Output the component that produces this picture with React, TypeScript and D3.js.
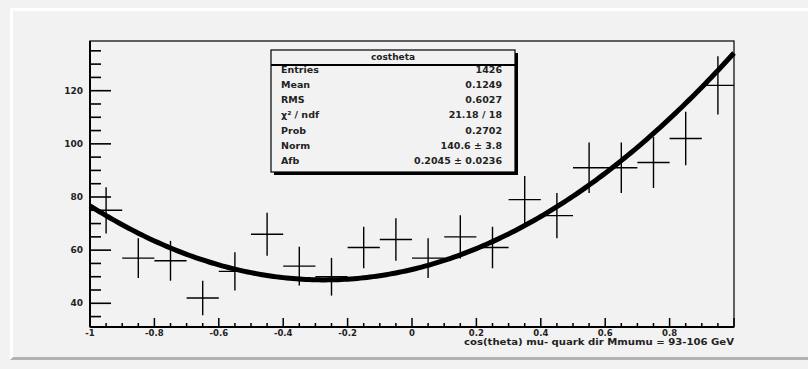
import React from "react";
import * as d3 from "d3";

// cos(theta) histogram, 20 bins on [-1, 1]
const binCenters = [
  -0.95, -0.85, -0.75, -0.65, -0.55, -0.45, -0.35, -0.25, -0.15, -0.05,
  0.05, 0.15, 0.25, 0.35, 0.45, 0.55, 0.65, 0.75, 0.85, 0.95,
];
const binHalfWidth = 0.05;
const counts = [75, 57, 56, 42, 52, 66, 54, 50, 61, 64, 57, 65, 61, 79, 73, 91, 91, 93, 102, 122];
const errors = [8.7, 7.5, 7.5, 6.5, 7.2, 8.1, 7.3, 7.1, 7.8, 8.0, 7.5, 8.1, 7.8, 8.9, 8.5, 9.5, 9.5, 9.6, 10.1, 11.0];

// fit parameters
const fitNorm = 140.6;
const fitAfb = 0.2045;

const xTickValues = [-1, -0.8, -0.6, -0.4, -0.2, 0, 0.2, 0.4, 0.6, 0.8];
const xTickLabels = ["-1", "-0.8", "-0.6", "-0.4", "-0.2", "0", "0.2", "0.4", "0.6", "0.8"];
const yTickValues = [40, 60, 80, 100, 120];
const yTickLabels = ["40", "60", "80", "100", "120"];

const statsTitle = "costheta";
const statsLabels = ["Entries", "Mean", "RMS", "χ² / ndf", "Prob", "Norm", "Afb"];
const statsValues = ["1426", "0.1249", "0.6027", "21.18 / 18", "0.2702", "140.6 ± 3.8", "0.2045 ± 0.0236"];

const xTitle = "cos(theta) mu- quark dir  Mmumu = 93-106 GeV";

const W = 808;
const H = 369;
const frame = { left: 90, top: 41, right: 734, bottom: 327 };
const FONT = "'DejaVu Sans', Arial, sans-serif";

export default function App() {
  const x = d3.scaleLinear().domain([-1, 1]).range([frame.left, frame.right]);
  const y = d3.scaleLinear().domain([31.08, 138.7]).range([frame.bottom, frame.top]);

  const fit = (c: number) => fitNorm * (0.375 * (1 + c * c) + fitAfb * c);
  const curvePts = d3.range(0, 201).map((i) => -1 + i * 0.01);
  const line = d3
    .line<number>()
    .x((c) => x(c))
    .y((c) => y(fit(c)));

  const xMinor = d3.range(0, 41).map((i) => -1 + i * 0.05);
  const yMinor = d3.range(35, 139, 5);

  const box = { x: 271, y: 50, w: 244, h: 122 };

  return (
    <svg
      width={W}
      height={H}
      style={{ position: "absolute", left: 0, top: 0, fontFamily: FONT }}
    >
      <rect x={0} y={0} width={W} height={H} fill="#f2f2f2" />
      {/* pad bevel */}
      <polygon points={`10,8 ${W},8 ${W},11 13,11 13,357 10,360`} fill="#ffffff" />
      <polygon points={`10,360 13,357 ${W},357 ${W},360`} fill="#b2b2b2" />

      {/* frame */}
      <rect
        x={frame.left}
        y={frame.top}
        width={frame.right - frame.left}
        height={frame.bottom - frame.top}
        fill="#f2f2f2"
        stroke="#111"
        strokeWidth={1.3}
      />

      {/* y axis */}
      <line x1={frame.left} x2={frame.left} y1={frame.top} y2={frame.bottom} stroke="#000" strokeWidth={2} />
      {yMinor.map((v) => {
        const major = yTickValues.includes(v);
        return (
          <line
            key={"ym" + v}
            x1={frame.left}
            x2={frame.left + (major ? 21 : 11)}
            y1={y(v)}
            y2={y(v)}
            stroke="#000"
            strokeWidth={1.6}
          />
        );
      })}
      {yTickValues.map((v, i) => (
        <text
          key={"yl" + v}
          x={83}
          y={y(v)}
          textAnchor="end"
          dominantBaseline="central"
          fontSize={9}
          fontWeight="bold"
          fill="#222"
        >
          {yTickLabels[i]}
        </text>
      ))}

      {/* x axis */}
      <line x1={frame.left} x2={frame.right} y1={frame.bottom} y2={frame.bottom} stroke="#000" strokeWidth={2} />
      {xMinor.map((v, i) => {
        const major = i % 4 === 0;
        return (
          <line
            key={"xm" + i}
            x1={x(v)}
            x2={x(v)}
            y1={frame.bottom}
            y2={frame.bottom - (major ? 9 : 4)}
            stroke="#000"
            strokeWidth={1.5}
          />
        );
      })}
      {xTickValues.map((v, i) => (
        <text
          key={"xl" + i}
          x={x(v)}
          y={333}
          textAnchor="middle"
          dominantBaseline="central"
          fontSize={8.5}
          fontWeight="bold"
          fill="#222"
        >
          {xTickLabels[i]}
        </text>
      ))}
      <text
        x={frame.right}
        y={342}
        textAnchor="end"
        dominantBaseline="central"
        fontSize={9}
        fontWeight="bold"
        fill="#222"
        textLength={270}
        lengthAdjust="spacingAndGlyphs"
      >
        {xTitle}
      </text>

      {/* data points with errors */}
      {binCenters.map((c, i) => (
        <g key={"pt" + i} stroke="#000" strokeWidth={1.4}>
          <line x1={x(c - binHalfWidth)} x2={x(c + binHalfWidth)} y1={y(counts[i])} y2={y(counts[i])} />
          <line x1={x(c)} x2={x(c)} y1={y(counts[i] - errors[i])} y2={y(counts[i] + errors[i])} />
        </g>
      ))}

      {/* fit curve */}
      <path d={line(curvePts) || ""} fill="none" stroke="#000" strokeWidth={5} strokeLinejoin="round" />

      {/* stats box */}
      <rect x={box.x + 3} y={box.y + 3} width={box.w} height={box.h} fill="#000" />
      <rect x={box.x} y={box.y} width={box.w} height={box.h} fill="#f2f2f2" stroke="#000" strokeWidth={1.2} />
      <line x1={box.x} x2={box.x + box.w} y1={65} y2={65} stroke="#000" strokeWidth={1.8} />
      <text
        x={box.x + box.w / 2}
        y={57}
        textAnchor="middle"
        dominantBaseline="central"
        fontSize={9}
        fontWeight="bold"
        fill="#222"
      >
        {statsTitle}
      </text>
      {statsLabels.map((lab, i) => (
        <g key={"st" + i}>
          <text
            x={281}
            y={69 + 15.3 * i}
            dominantBaseline="central"
            fontSize={9.5}
            fontWeight="bold"
            fill="#222"
          >
            {lab}
          </text>
          <text
            x={502}
            y={69 + 15.3 * i}
            textAnchor="end"
            dominantBaseline="central"
            fontSize={9.5}
            fontWeight="bold"
            fill="#222"
          >
            {statsValues[i]}
          </text>
        </g>
      ))}
    </svg>
  );
}
